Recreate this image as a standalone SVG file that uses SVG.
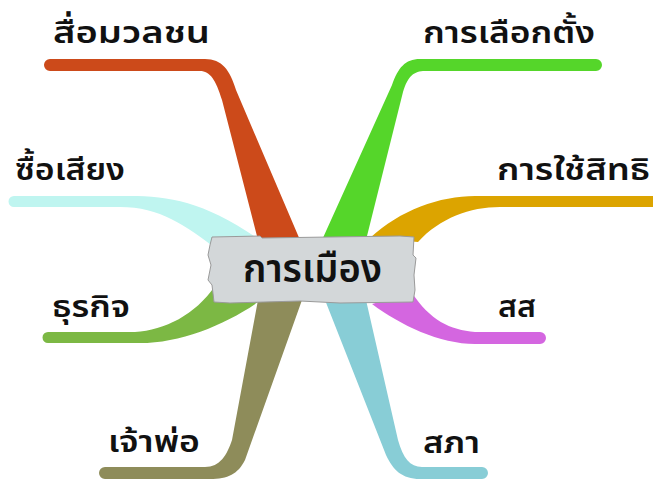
<svg xmlns="http://www.w3.org/2000/svg" width="653" height="481" viewBox="0 0 653 481">
<style>
.lbl{font-family:"Noto Sans Thai","Noto Sans","DejaVu Sans",sans-serif;font-size:31px;font-weight:600;fill:#111}
.ctr{font-family:"Noto Sans Thai","Noto Sans","DejaVu Sans",sans-serif;font-size:39px;font-weight:600;fill:#111}
</style>
<rect width="653" height="481" fill="#ffffff"/>
<g id="connectors">
<path id="c-media" fill="#cc4a1a" d="M50,59 L205,59 C222,59 230,70 236,90 L300,240 L258,240 L222,100 C216,80 210,71 200,71 L50,71 A6,6 0 0 1 50,59 Z"/>
<path id="c-buy" fill="#bff5f0" d="M14,196 L130,196 C170,196 205,202 260,240 L218,250 C185,225 160,207 120,207 L14,207 A5.5,5.5 0 0 1 14,196 Z"/>
<path id="c-elect" fill="#55d62a" d="M596,59 L420,59 C405,59 398,68 392,85 L322,240 L366,240 L403,92 C408,76 414,71 425,71 L596,71 A6,6 0 0 0 596,59 Z"/>
<path id="c-right" fill="#dca400" d="M653,196 L475,196 C440,196 400,210 370,238 L418,242 C440,218 470,207 500,207 L653,207 Z"/>
<path id="c-biz" fill="#7cb844" d="M48,332 L135,332 C165,330 195,315 215,286 L258,302 C225,325 180,343 140,343 L48,343 A5.5,5.5 0 0 1 48,332 Z"/>
<path id="c-boss" fill="#8e8c5a" d="M105,467 L205,467 C220,467 227,455 232,440 L258,300 L302,300 L245,460 C238,474 228,479 210,479 L105,479 A6,6 0 0 1 105,467 Z"/>
<path id="c-parl" fill="#88cdd6" d="M325,300 L366,300 L398,440 C403,458 410,467 422,467 L482,467 A6,6 0 0 1 482,479 L420,479 C402,479 393,470 386,455 Z"/>
<path id="c-mp" fill="#d466e0" d="M540,332 L475,332 C450,330 430,320 412,293 L372,304 C400,325 440,344 475,344 L540,344 A6,6 0 0 0 540,332 Z"/>
</g>
<g id="center">
<path fill="#d3d7d9" stroke="#9a9a9a" stroke-width="1" d="M212,237 L260,236 L262,238 L330,237 L400,236 L414,237 L413,255 L416,258 L414,275 L415,290 L413,302 L340,303 L300,301 L230,303 L214,302 L212,285 L208,280 L211,265 L208,255 L210,245 Z"/>
<text class="ctr" x="243" y="282" textLength="139" lengthAdjust="spacingAndGlyphs">การเมือง</text>
</g>
<g id="n-media"><text class="lbl" x="53" y="43" textLength="157" lengthAdjust="spacingAndGlyphs">สื่อมวลชน</text></g>
<g id="n-buy"><text class="lbl" x="15" y="180" textLength="110" lengthAdjust="spacingAndGlyphs">ซื้อเสียง</text></g>
<g id="n-elect"><text class="lbl" x="423" y="43" textLength="172" lengthAdjust="spacingAndGlyphs">การเลือกตั้ง</text></g>
<g id="n-right"><text class="lbl" x="497" y="180" textLength="153" lengthAdjust="spacingAndGlyphs">การใช้สิทธิ</text></g>
<g id="n-biz"><text class="lbl" x="52" y="317" textLength="78" lengthAdjust="spacingAndGlyphs">ธุรกิจ</text></g>
<g id="n-boss"><text class="lbl" x="108" y="452" textLength="92" lengthAdjust="spacingAndGlyphs">เจ้าพ่อ</text></g>
<g id="n-mp"><text class="lbl" x="498" y="317" textLength="38" lengthAdjust="spacingAndGlyphs">สส</text></g>
<g id="n-parl"><text class="lbl" x="423" y="453" textLength="57" lengthAdjust="spacingAndGlyphs">สภา</text></g>
</svg>
